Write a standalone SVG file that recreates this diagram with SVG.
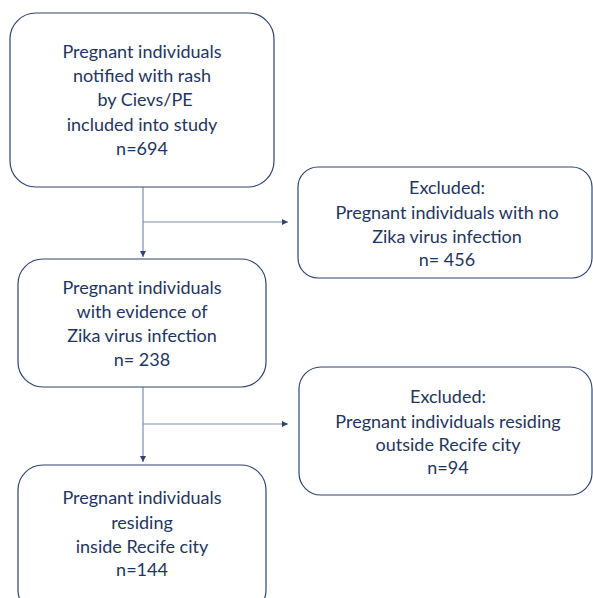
<svg xmlns="http://www.w3.org/2000/svg" width="593" height="598" viewBox="0 0 593 598">
<style>
.box{fill:#ffffff;stroke:#2e4473;stroke-width:1.2}
.t{font-family:Lato,"Liberation Sans",sans-serif;font-size:18px;fill:#1f3560;text-anchor:middle}
.c{fill:none;stroke:#7d8db0;stroke-width:1.2}
</style>
<defs>
<marker id="ah" viewBox="0 0 10 10" refX="10" refY="5" markerWidth="6" markerHeight="6" orient="auto" markerUnits="userSpaceOnUse">
<path d="M0,0 L10,5 L0,10 z" fill="#2e4473"/>
</marker>
</defs>
<rect width="593" height="598" fill="#ffffff"/>
<g id="connectors">
<path class="c" d="M143,187 V257" marker-end="url(#ah)"/>
<path class="c" d="M143,222 H288" marker-end="url(#ah)"/>
<path class="c" d="M143,387 V462" marker-end="url(#ah)"/>
<path class="c" d="M143,424 H288" marker-end="url(#ah)"/>
</g>
<g id="n1">
<rect class="box" x="10" y="13" width="264" height="174" rx="26"/>
<text class="t" x="142" y="58">Pregnant individuals</text>
<text class="t" x="142" y="82">notified with rash</text>
<text class="t" x="145" y="106">by Cievs/PE</text>
<text class="t" x="142" y="131">included into study</text>
<text class="t" x="142" y="155">n=694</text>
</g>
<g id="n2">
<rect class="box" x="298" y="167" width="294" height="111" rx="20"/>
<text class="t" x="447" y="194">Excluded:</text>
<text class="t" x="447" y="219">Pregnant individuals with no</text>
<text class="t" x="447" y="243">Zika virus infection</text>
<text class="t" x="447" y="266">n= 456</text>
</g>
<g id="n3">
<rect class="box" x="18" y="259" width="248" height="128" rx="25"/>
<text class="t" x="142" y="294">Pregnant individuals</text>
<text class="t" x="142" y="318">with evidence of</text>
<text class="t" x="142" y="342">Zika virus infection</text>
<text class="t" x="142" y="366">n= 238</text>
</g>
<g id="n4">
<rect class="box" x="299" y="367" width="293" height="128" rx="22"/>
<text class="t" x="448" y="403">Excluded:</text>
<text class="t" x="448" y="428">Pregnant individuals residing</text>
<text class="t" x="448" y="451">outside Recife city</text>
<text class="t" x="448" y="474">n=94</text>
</g>
<g id="n5">
<rect class="box" x="18" y="465" width="248" height="150" rx="25"/>
<text class="t" x="142" y="504">Pregnant individuals</text>
<text class="t" x="142" y="529">residing</text>
<text class="t" x="142" y="553">inside Recife city</text>
<text class="t" x="142" y="576">n=144</text>
</g>
</svg>
